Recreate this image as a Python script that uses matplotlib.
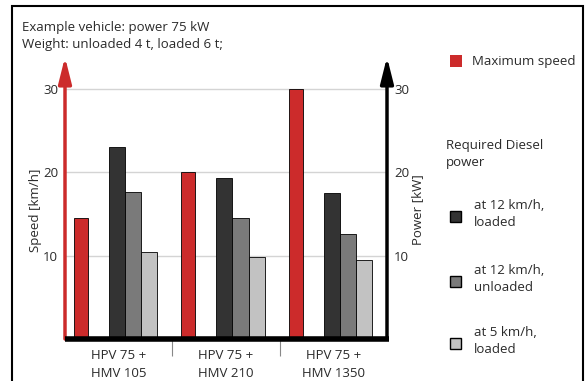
import numpy as np
import matplotlib.pyplot as plt
from matplotlib.patches import Rectangle

plt.rcParams['font.family'] = ['Open Sans', 'DejaVu Sans']

# values
categories = ['HPV 75 +\nHMV 105', 'HPV 75 +\nHMV 210', 'HPV 75 +\nHMV 1350']
max_speed = [14.5, 20.0, 30.0]
power_12_loaded = [23.0, 19.3, 17.5]
power_12_unloaded = [17.6, 14.5, 12.6]
power_5_loaded = [10.4, 9.8, 9.5]

RED = '#cc2b2b'
DARK = '#333333'
MID = '#7a7a7a'
LIGHT = '#c2c2c2'
TXT = '#2a2a2a'
FS = 9.5

W, H = 585, 381
fig = plt.figure(figsize=(W / 100, H / 100), dpi=100)

# outer frame
fig.patches.append(Rectangle((12 / W, -0.05), 571 / W, 1.05 - 6 / H, transform=fig.transFigure,
                             fill=False, edgecolor='black', lw=1.5))

ax = fig.add_axes([65 / W, (H - 339) / H, (387 - 65) / W, (339 - 57) / H])
ax.set_xlim(0, 3)
ax.set_ylim(0, 33.8)

x = np.arange(len(categories))
ax.bar(x + 0.15, max_speed, 0.13, color=RED, edgecolor='black', lw=0.6, zorder=3)
ax.bar(x + 0.485, power_12_loaded, 0.15, color=DARK, edgecolor='black', lw=0.6, zorder=3)
ax.bar(x + 0.635, power_12_unloaded, 0.15, color=MID, edgecolor='black', lw=0.6, zorder=3)
ax.bar(x + 0.785, power_5_loaded, 0.15, color=LIGHT, edgecolor='black', lw=0.6, zorder=3)

for s in ax.spines.values():
    s.set_visible(False)

ax.set_yticks([10, 20, 30])
ax.yaxis.grid(True, color='#d4d4d4', lw=1)
ax.set_axisbelow(True)
ax.tick_params(axis='y', length=0, pad=5, labelsize=FS, labelcolor=TXT,
               labelleft=True, labelright=True)
ax.set_ylabel('Speed [km/h]', fontsize=FS, color=TXT)
ax.yaxis.set_label_coords(-23 / 322, 0.457)

ax.set_xticks(x + 0.5)
ax.set_xticklabels(categories, fontsize=FS, color=TXT, linespacing=1.5)
ax.tick_params(axis='x', length=0, pad=7)
ax.set_xticks([1, 2], minor=True)
ax.tick_params(axis='x', which='minor', length=12, color='#888888', width=0.8)

# baseline and axis arrows
ax.plot([0, 3.02], [0, 0], color='black', lw=4, clip_on=False, zorder=5, solid_capstyle='butt')
arrow_style = '-|>,head_length=1.2,head_width=0.3'
ax.annotate('', xy=(0, 33.8), xytext=(0, 0), annotation_clip=False,
            arrowprops=dict(arrowstyle=arrow_style, color=RED,
                            lw=2.5, shrinkA=0, shrinkB=0, mutation_scale=13))
ax.annotate('', xy=(3, 33.8), xytext=(3, 0), annotation_clip=False,
            arrowprops=dict(arrowstyle=arrow_style, color='black',
                            lw=2.5, shrinkA=0, shrinkB=0, mutation_scale=13))

fig.text(418 / W, 1 - 210 / H, 'Power [kW]', rotation=90, ha='center', va='center',
         fontsize=FS, color=TXT)

fig.text(22 / W, 1 - 36 / H, 'Example vehicle: power 75 kW\nWeight: unloaded 4 t, loaded 6 t;',
         ha='left', va='center', fontsize=FS, color=TXT, linespacing=1.35)

# legend
fig.patches.append(Rectangle((450 / W, 1 - 67 / H), 12 / W, 12 / H, transform=fig.transFigure,
                             facecolor=RED, edgecolor='none'))
fig.text(472 / W, 1 - 61 / H, 'Maximum speed', ha='left', va='center', fontsize=FS, color=TXT)
fig.text(446 / W, 1 - 154 / H, 'Required Diesel\npower', ha='left', va='center',
         fontsize=FS, color=TXT, linespacing=1.35)
legend_items = [(DARK, 'at 12 km/h,\nloaded', 216),
                (MID, 'at 12 km/h,\nunloaded', 281),
                (LIGHT, 'at 5 km/h,\nloaded', 343)]
for col, lab, yc in legend_items:
    fig.patches.append(Rectangle((450 / W, 1 - (yc + 6) / H), 11 / W, 11 / H,
                                 transform=fig.transFigure, facecolor=col,
                                 edgecolor='black', lw=1))
    fig.text(474 / W, 1 - (yc - 2) / H, lab, ha='left', va='center', fontsize=FS,
             color=TXT, linespacing=1.35)

fig.savefig('out.png', dpi=100)
